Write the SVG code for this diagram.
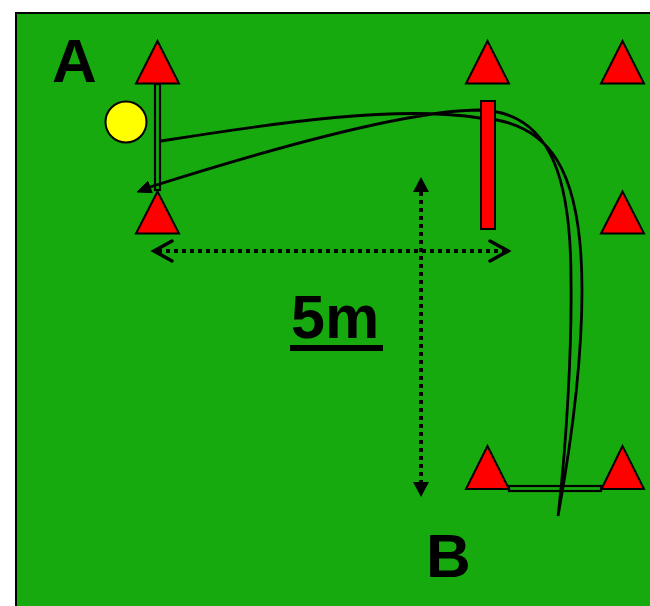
<svg xmlns="http://www.w3.org/2000/svg" width="650" height="606" viewBox="0 0 650 606">
<style>
.cone{fill:#ff0000;stroke:#000;stroke-width:2;stroke-linejoin:miter}
.lbl{font-family:"Liberation Sans",Arial,sans-serif;font-weight:bold;fill:#000}
.dot{fill:none;stroke:#000;stroke-width:4;stroke-dasharray:4 4}
.chev{fill:none;stroke:#000;stroke-width:3.5;stroke-linecap:round;stroke-linejoin:miter}
.run{fill:none;stroke:#000;stroke-width:2.8}
.gate{fill:#17aa0f;stroke:#000;stroke-width:2.2}
</style>
<rect id="field" x="16" y="13" width="640" height="600" fill="#17aa0f" stroke="#000" stroke-width="2"/>
<g id="texts">
<text class="lbl" x="52" y="82" font-size="62">A</text>
<text class="lbl" x="426" y="577" font-size="62">B</text>
<text class="lbl" x="291" y="338" font-size="61">5m</text>
<rect x="290" y="345" width="93" height="6" fill="#000"/>
</g>
<g id="connectors">
<rect class="gate" x="155" y="84" width="5" height="106"/>
<rect class="gate" x="509" y="486" width="92" height="5"/>
<path class="run" d="M161,141 C280,122 400,105 480,118 C550,122 582,170 582,290 C582,370 570,450 558,516 C566,450 572,350 571,280 C571,190 556,112 480,110 C430,110 330,130 150,187"/>
<polygon points="137,192 147.8,181.4 152.2,192.6" fill="#000" stroke="#000" stroke-width="1"/>
<line class="dot" x1="158" y1="251" x2="505" y2="251"/>
<polyline class="chev" points="172,241 154,251 172,261"/>
<polyline class="chev" points="490,241 508,251 490,261"/>
<line class="dot" x1="421" y1="192" x2="421" y2="484"/>
<polygon points="421,177 413,192 429,192" fill="#000"/>
<polygon points="421,497 413,482 429,482" fill="#000"/>
</g>
<g id="cone-tl"><polygon class="cone" points="157.5,41 136,83.5 179,83.5"/></g>
<g id="cone-tm"><polygon class="cone" points="487.5,41 466,83.5 509,83.5"/></g>
<g id="cone-tr"><polygon class="cone" points="622.5,41 601,83.5 644,83.5"/></g>
<g id="cone-ml"><polygon class="cone" points="157.5,191.5 136,233.5 179,233.5"/></g>
<g id="cone-mr"><polygon class="cone" points="622.5,191.5 601,233.5 644,233.5"/></g>
<g id="cone-bl"><polygon class="cone" points="487.5,446 466,489 509,489"/></g>
<g id="cone-br"><polygon class="cone" points="622.5,446 601.5,489 644,489"/></g>
<g id="ball"><circle cx="126" cy="122" r="20.5" fill="#ffff00" stroke="#000" stroke-width="2"/></g>
<g id="pole"><rect x="481" y="101" width="14" height="128" fill="#ff0000" stroke="#000" stroke-width="2"/></g>
</svg>
